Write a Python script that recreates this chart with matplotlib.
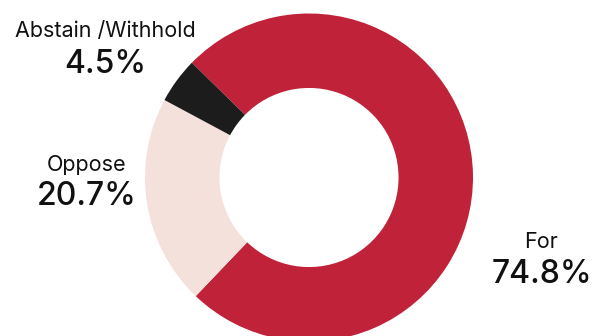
import matplotlib
matplotlib.use("Agg")
import matplotlib.pyplot as plt

# vote split
labels = ["For", "Oppose", "Abstain /Withhold"]
shares = [74.8, 20.7, 4.5]
colors = ["#C0223A", "#F5E1DC", "#1C1C1C"]

W, H = 592, 336
plt.rcParams["font.family"] = ["Inter", "DejaVu Sans"]

fig = plt.figure(figsize=(W / 100, H / 100), dpi=100)
ax = fig.add_axes([0, 0, 1, 1])

ax.pie(
    shares,
    colors=colors,
    startangle=135.6,
    counterclock=False,
    center=(309, H - 177.5),
    radius=164,
    wedgeprops=dict(width=164 * 0.454, linewidth=0),
)
ax.set_xlim(0, W)
ax.set_ylim(0, H)
ax.set_aspect("equal")
ax.axis("off")

# label positions in pixels (x center, name baseline, value baseline)
label_pos = {
    "For": (541.5, 248, 283),
    "Oppose": (86.5, 171, 205),
    "Abstain /Withhold": (105.5, 37, 73),
}
for name, val in zip(labels, shares):
    x, y1, y2 = label_pos[name]
    ax.text(x, H - y1, name, ha="center", va="baseline", fontsize=15.5, color="#111111")
    ax.text(x, H - y2, f"{val}%", ha="center", va="baseline", fontsize=23,
            color="#111111", fontweight="medium")

fig.savefig("out.png", dpi=100)
